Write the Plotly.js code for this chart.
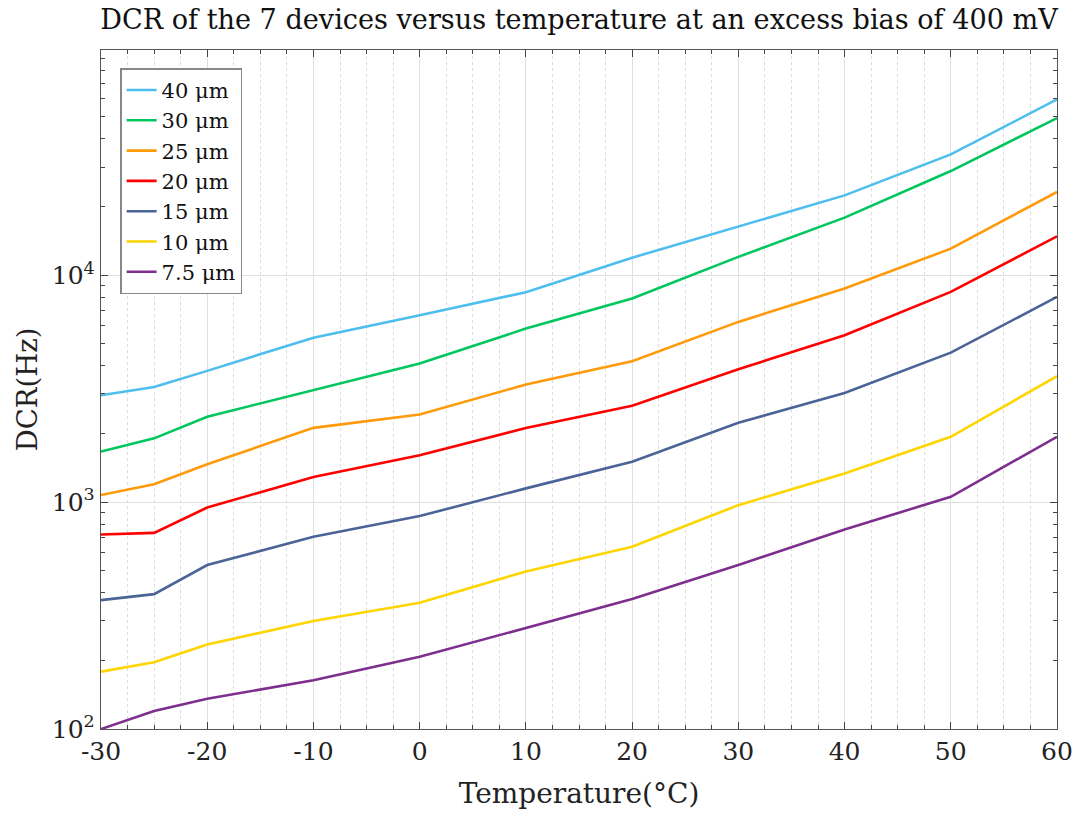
<!DOCTYPE html>
<html>
<head>
<meta charset="utf-8">
<script src="https://cdn.plot.ly/plotly-3.0.1.min.js"></script>
<style>html,body{margin:0;padding:0;background:#fff;}#chart{width:1078px;height:814px;}</style>
</head>
<body>
<div id="chart"></div>
<script>
const temperature = [-30, -25, -20, -10, 0, 10, 20, 30, 40, 50, 60];
const seriesNames = ['40 μm', '30 μm', '25 μm', '20 μm', '15 μm', '10 μm', '7.5 μm'];
const dcr40 = [2960, 3220, 3790, 5310, 6660, 8420, 11950, 16350, 22500, 34100, 59600];
const dcr30 = [1670, 1910, 2380, 3110, 4080, 5820, 7900, 12050, 17950, 28800, 49300];
const dcr25 = [1075, 1200, 1470, 2125, 2435, 3300, 4180, 6230, 8740, 13100, 23300];
const dcr20 = [720, 732, 947, 1290, 1610, 2120, 2660, 3850, 5440, 8450, 14850];
const dcr15 = [370, 393, 528, 704, 868, 1150, 1506, 2236, 3030, 4560, 8030];
const dcr10 = [179, 197, 236, 299, 360, 495, 636, 970, 1338, 1940, 3590];
const dcr7p5 = [100, 120, 136, 164, 208, 278, 374, 528, 758, 1056, 1940];
const seriesColors = ['#4DBEEE', '#00C65E', '#FF9A0A', '#FF0000', '#4A6497', '#FFD500', '#7E2F8E'];
const yTickVals = [100, 1000, 10000];
const yTickText = ['10<sup>2</sup>', '10<sup>3</sup>', '10<sup>4</sup>'];
const xTickVals = [-30, -20, -10, 0, 10, 20, 30, 40, 50, 60];
const xTickText = ['-30', '-20', '-10', '0', '10', '20', '30', '40', '50', '60'];

const allSeries = [dcr40, dcr30, dcr25, dcr20, dcr15, dcr10, dcr7p5];
const traces = allSeries.map((vals, i) => ({
  x: temperature,
  y: vals,
  type: 'scatter',
  mode: 'lines',
  name: seriesNames[i],
  line: {color: seriesColors[i], width: 2.6}
}));

const fontFam = '"DejaVu Serif", "Liberation Serif", serif';
const layout = {
  width: 1078, height: 814,
  margin: {l: 101, r: 21, t: 50, b: 85},
  paper_bgcolor: '#fff', plot_bgcolor: '#fff',
  font: {family: fontFam, color: '#262626', size: 22},
  title: {text: 'DCR of the 7 devices versus temperature at an excess bias of 400 mV',
          font: {family: fontFam, size: 27.1, color: '#111'}, xref: 'paper', x: 0.5, xanchor: 'center', y: 0.988, yanchor: 'top'},
  showlegend: true,
  legend: {x: 0.02, y: 0.973, xanchor: 'left', yanchor: 'top', bgcolor: '#fff',
           bordercolor: '#888', borderwidth: 1.5, font: {family: fontFam, size: 21, color: '#111'},
           tracegroupgap: 0},
  xaxis: {
    range: [-30, 60], tickvals: xTickVals, ticktext: xTickText, ticks: 'inside', ticklen: 7, tickcolor: '#444',
    showline: true, linecolor: '#555', linewidth: 1.3, mirror: 'allticks',
    showgrid: true, gridcolor: '#e0e0e0', gridwidth: 1, zeroline: false,
    tickfont: {family: fontFam, size: 25, color: '#222'},
    minor: {dtick: 2.5, tick0: -30, ticks: 'inside', ticklen: 4, tickcolor: '#444', showgrid: true, gridcolor: '#dcdcdc', griddash: 'dot', gridwidth: 1},
    title: {text: 'Temperature(°C)', font: {family: fontFam, size: 28, color: '#222'}, standoff: 18}
  },
  yaxis: {
    type: 'log', range: [2, 4.993], tickvals: yTickVals, ticktext: yTickText,
    ticks: 'inside', ticklen: 7, tickcolor: '#444',
    showline: true, linecolor: '#555', linewidth: 1.3, mirror: 'allticks',
    showgrid: true, gridcolor: '#e0e0e0', gridwidth: 1, zeroline: false,
    tickfont: {family: fontFam, size: 25, color: '#222'},
    minor: {dtick: 'D1', ticks: 'inside', ticklen: 4, tickcolor: '#444', showgrid: false},
    title: {text: 'DCR(Hz)', font: {family: fontFam, size: 27.5, color: '#222'}, standoff: 6}
  }
};

Plotly.newPlot('chart', traces, layout, {displayModeBar: false, staticPlot: true});
</script>
</body>
</html>
